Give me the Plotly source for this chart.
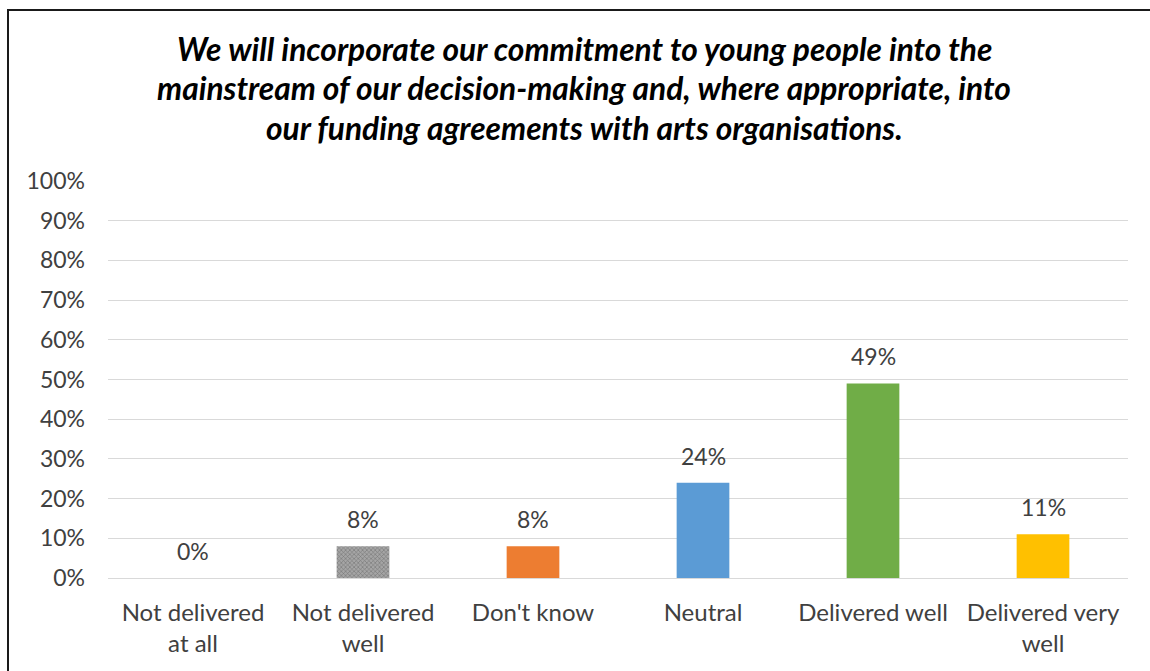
import plotly.graph_objects as go

categories = ["Not delivered<br>at all", "Not delivered<br>well", "Don't know",
              "Neutral", "Delivered well", "Delivered very<br>well"]
values = [0, 8, 8, 24, 49, 11]
colors = ["#A5A5A5", "#A5A5A5", "#ED7D31", "#5B9BD5", "#70AD47", "#FFC000"]
patterns = ["", "x", "", "", "", ""]
y_ticks = [0, 10, 20, 30, 40, 50, 60, 70, 80, 90, 100]
y_tick_labels = [f"{v}%" for v in y_ticks]
title_lines = [
    "We will incorporate our commitment to young people into the",
    "mainstream of our decision-making and, where appropriate, into",
    "our funding agreements with arts organisations.",
]

FONT = "Lato"
W, H = 1150, 671
L, R, T, B = 108, 22, 181, 93
plot_h = H - T - B


def py(pix):
    # convert a pixel row to paper y
    return (H - B - pix) / plot_h


def px(pix):
    return (pix - L) / (W - L - R)


fig = go.Figure(go.Bar(
    x=categories,
    y=values,
    width=0.31,
    marker=dict(
        color=colors,
        line=dict(width=0),
        pattern=dict(shape=patterns, fgcolor="#8A8A8A", size=3, solidity=0.35),
    ),
))

annotations = []
# value labels above each bar
for cat, v in zip(categories, values):
    annotations.append(dict(
        x=cat, y=v, xref="x", yref="y", text=f"{v}%",
        showarrow=False, xanchor="center", yanchor="bottom", yshift=11,
        font=dict(family=FONT, size=23, color="#404040"),
    ))

for i, line in enumerate(title_lines):
    annotations.append(dict(
        text="<b><i>" + line + "</i></b>",
        x=px(584), y=py(48.5 + i * 39.5), xref="paper", yref="paper",
        xanchor="center", yanchor="middle", showarrow=False,
        font=dict(family=FONT, size=31.7, color="#000000"),
    ))

fig.update_layout(
    width=W, height=H,
    margin=dict(l=L, r=R, t=T, b=B),
    paper_bgcolor="white", plot_bgcolor="white",
    showlegend=False,
    bargap=0.69,
    annotations=annotations,
    shapes=[dict(type="path", xref="paper", yref="paper",
                 path=f"M {px(8)} {py(700)} L {px(8)} {py(10)} L {px(1160)} {py(10)}",
                 line=dict(color="#1a1a1a", width=2))],
    xaxis=dict(
        showgrid=False, showline=False, zeroline=False,
        tickfont=dict(family=FONT, size=24, color="#404040"),
        ticks="", ticklabelstandoff=18,
    ),
    yaxis=dict(
        range=[0, 100], tickvals=y_ticks, ticktext=y_tick_labels,
        showgrid=True, gridcolor="#D9D9D9", gridwidth=1,
        zeroline=True, zerolinecolor="#D9D9D9", zerolinewidth=1,
        showline=False, ticks="",
        tickfont=dict(family=FONT, size=23, color="#404040"),
        ticklabelstandoff=22,
    ),
)

fig.write_html("out.html")
